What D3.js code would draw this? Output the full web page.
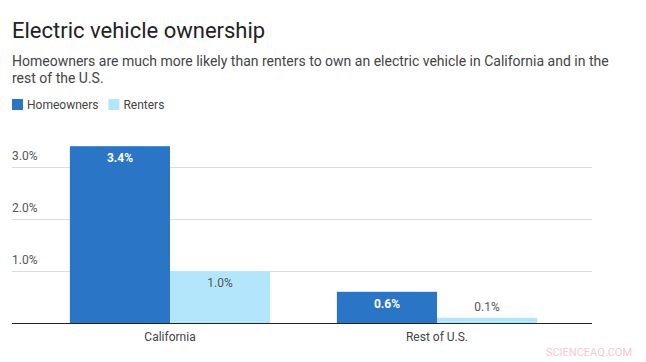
<!DOCTYPE html>
<html>
<head>
<meta charset="utf-8">
<script src="https://cdn.jsdelivr.net/npm/d3@7"></script>
<style>
  body { margin: 0; background: #fff; font-family: Roboto, "Noto Sans", sans-serif; }
</style>
</head>
<body>
<script>
var categories = ["California", "Rest of U.S."];
var seriesNames = ["Homeowners", "Renters"];
var homeowners = [3.4, 0.6];
var renters = [1.0, 0.1];
var yTicks = [1, 2, 3];
var colors = { "Homeowners": "#2a75c6", "Renters": "#b3e5fb" };

var width = 646, height = 362;
var svg = d3.select("body").append("svg")
  .attr("width", width)
  .attr("height", height);

// title and subtitle
svg.append("text")
  .attr("x", 12).attr("y", 38)
  .attr("font-size", 22).attr("fill", "#222")
  .text("Electric vehicle ownership");

var sub = svg.append("text")
  .attr("font-size", 14).attr("fill", "#444");
sub.append("tspan").attr("x", 12).attr("y", 66)
  .text("Homeowners are much more likely than renters to own an electric vehicle in California and in the");
sub.append("tspan").attr("x", 12).attr("y", 83)
  .text("rest of the U.S.");

// legend
var lx = 12;
seriesNames.forEach(function(s) {
  svg.append("rect").attr("x", lx).attr("y", 99)
    .attr("width", 11).attr("height", 11).attr("fill", colors[s]);
  var t = svg.append("text").attr("x", lx + 15).attr("y", 108.5)
    .attr("font-size", 12).attr("fill", "#444").text(s);
  lx += 15 + t.node().getComputedTextLength() + 10;
});

// scales
var x0 = d3.scaleBand().domain(categories)
  .range([36.5, 570.5]).paddingInner(0.25).paddingOuter(0.125);
var x1 = d3.scaleBand().domain(seriesNames).range([0, x0.bandwidth()]);
var y = d3.scaleLinear().domain([0, 3.5]).range([323, 141]);

// grid
var grid = svg.append("g").attr("transform", "translate(12,0)")
  .call(d3.axisLeft(y).tickValues(yTicks).tickSize(-580).tickFormat(""));
grid.select(".domain").remove();
grid.selectAll(".tick line").attr("stroke", "#dcdcdc");

svg.append("g").selectAll("text").data(yTicks).enter().append("text")
  .attr("x", 12).attr("y", function(d) { return y(d) - 7; })
  .attr("font-size", 12).attr("fill", "#555")
  .text(function(d) { return d.toFixed(1) + "%"; });

// bars
var rows = categories.map(function(c, i) {
  return { cat: c, values: [
    { s: "Homeowners", v: homeowners[i] },
    { s: "Renters", v: renters[i] }
  ] };
});

var groups = svg.append("g").selectAll("g").data(rows).enter().append("g")
  .attr("transform", function(d) { return "translate(" + x0(d.cat) + ",0)"; });

groups.selectAll("rect").data(function(d) { return d.values; }).enter().append("rect")
  .attr("x", function(d) { return x1(d.s); })
  .attr("y", function(d) { return y(d.v); })
  .attr("width", x1.bandwidth())
  .attr("height", function(d) { return y(0) - y(d.v); })
  .attr("fill", function(d) { return colors[d.s]; });

groups.selectAll("text").data(function(d) { return d.values; }).enter().append("text")
  .attr("x", function(d) { return x1(d.s) + x1.bandwidth() / 2; })
  .attr("y", function(d) {
    var h = y(0) - y(d.v);
    return h > 20 ? y(d.v) + 16 : y(d.v) - 7;
  })
  .attr("text-anchor", "middle")
  .attr("font-size", 12)
  .attr("font-weight", function(d) { return d.s === "Homeowners" ? "bold" : "normal"; })
  .attr("fill", function(d) { return d.s === "Homeowners" ? "#fff" : "#555"; })
  .text(function(d) { return d.v.toFixed(1) + "%"; });

// baseline and category axis
var xAxis = svg.append("g").attr("transform", "translate(0,323)")
  .call(d3.axisBottom(x0).tickSize(0).tickPadding(9));
xAxis.select(".domain").remove();
xAxis.selectAll("text").attr("font-size", 12).attr("fill", "#444")
  .attr("font-family", "Roboto, sans-serif");
svg.append("line").attr("x1", 12).attr("x2", 592)
  .attr("y1", 323.5).attr("y2", 323.5).attr("stroke", "#222");

// watermark
svg.append("text").attr("x", 632).attr("y", 356).attr("text-anchor", "end")
  .attr("font-size", 11).attr("fill", "#f4c9d2").text("SCIENCEAQ.COM");
</script>
</body>
</html>
